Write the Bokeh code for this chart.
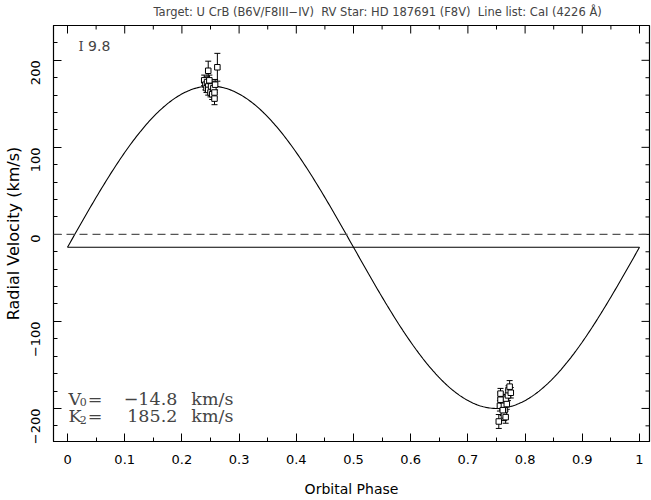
import numpy as np
from bokeh.plotting import figure
from bokeh.models import (ColumnDataSource, Whisker, TeeHead, Span, Label,
                          FixedTicker, Range1d)
from bokeh.embed import file_html
from bokeh.resources import INLINE

# ---- data ----
V0 = -14.8
K2 = 185.2
mean_err = 9.8

phase = [0.239, 0.241, 0.243, 0.244, 0.246, 0.246, 0.248, 0.250, 0.251, 0.253,
         0.255, 0.257, 0.258, 0.257, 0.246, 0.262,
         0.756, 0.757, 0.761, 0.763, 0.764, 0.766, 0.768, 0.770, 0.771, 0.773,
         0.775, 0.763, 0.766, 0.761, 0.754, 0.757]
rv = [177, 172, 168, 175, 170, 166, 177, 163, 170, 161,
      168, 163, 172, 156, 188, 192,
      -197, -183, -191, -197, -202, -189, -195, -185, -179, -175,
      -182, -208, -210, -202, -215, -190]
err = [6, 6, 5, 6, 5, 6, 6, 5, 6, 6,
       5, 6, 6, 7, 11, 16,
       6, 6, 5, 6, 6, 5, 6, 6, 5, 7,
       6, 6, 7, 6, 8, 8]

x_ticks = [0, 0.1, 0.2, 0.3, 0.4, 0.5, 0.6, 0.7, 0.8, 0.9, 1]
x_tick_labels = ["0", "0.1", "0.2", "0.3", "0.4", "0.5", "0.6", "0.7", "0.8", "0.9", "1"]
x_minor = [-0.05, 0.05, 0.15, 0.25, 0.35, 0.45, 0.55, 0.65, 0.75, 0.85, 0.95, 1.05]
y_ticks = [-200, -100, 0, 100, 200]
y_tick_labels = ["\u2212200", "\u2212100", "0", "100", "200"]
y_minor = [v for v in range(-240, 241, 20) if v % 100 != 0]

SP = "\u00a0\u00a0"
title_text = ("Target: U CrB (B6V/F8III\u2212IV)" + SP + "RV Star: HD 187691 (F8V)" + SP +
              "Line list: CaI (4226 \u00c5)")

# model curve from fitted parameters
ph_model = np.linspace(0, 1, 400)
rv_model = V0 + K2 * np.sin(2 * np.pi * ph_model)

FONT = "DejaVu Sans"
SERIF = "DejaVu Serif"

W, H = 651, 500
ML, MR, MT, MB = 52, 2, 25, 59
XR = Range1d(-0.0245, 1.0175)
YR = Range1d(-238, 240)

p = figure(width=W, height=H, output_backend="svg", toolbar_location=None,
           x_range=XR, y_range=YR,
           min_border_left=ML, min_border_right=MR, min_border_top=MT,
           min_border_bottom=MB)
p.background_fill_color = "white"
p.border_fill_color = "white"
p.outline_line_color = "black"
p.outline_line_width = 1.2
p.grid.visible = False

p.title.text = title_text
p.title.text_font = FONT
p.title.text_font_size = "11.5px"
p.title.text_font_style = "normal"
p.title.align = "left"
p.title.offset = 100
p.title.vertical_align = "top"
p.title.standoff = 9

def style_axis(ax):
    ax.axis_line_color = "black"
    ax.major_tick_in = 8
    ax.major_tick_out = 0
    ax.minor_tick_in = 4
    ax.minor_tick_out = 0
    ax.major_tick_line_color = "black"
    ax.minor_tick_line_color = "black"
    ax.major_label_text_font = FONT
    ax.major_label_text_color = "black"
    ax.major_label_text_font_size = "13px"
    ax.axis_label_text_font = FONT
    ax.axis_label_text_font_style = "normal"
    ax.axis_label_text_color = "black"

xa = p.xaxis[0]
xa.ticker = FixedTicker(ticks=x_ticks, minor_ticks=x_minor)
xa.major_label_overrides = {t: l for t, l in zip(x_ticks, x_tick_labels)}
style_axis(xa)
xa.major_label_standoff = 13
xa.axis_label = "Orbital Phase"
xa.axis_label_text_font_size = "14px"
xa.axis_label_standoff = 14

ya = p.yaxis[0]
ya.ticker = FixedTicker(ticks=y_ticks, minor_ticks=y_minor)
ya.major_label_overrides = {t: l for t, l in zip(y_ticks, y_tick_labels)}
style_axis(ya)
ya.major_label_orientation = np.pi / 2
ya.major_label_standoff = 18
ya.axis_label = "Radial Velocity (km/s)"
ya.axis_label_text_font_size = "16px"
ya.axis_label_standoff = 1

# mirrored ticks on top and right edges (tick lengths converted from pixels)
fw, fh = W - ML - MR, H - MT - MB
dx = (XR.end - XR.start) / fw
dy = (YR.end - YR.start) / fh
tick_src_top = ColumnDataSource(dict(
    x=x_ticks + x_minor,
    y0=[YR.end] * (len(x_ticks) + len(x_minor)),
    y1=[YR.end - 8 * dy] * len(x_ticks) + [YR.end - 4 * dy] * len(x_minor)))
p.segment(x0="x", y0="y0", x1="x", y1="y1", source=tick_src_top,
          line_color="black", line_width=1)
tick_src_right = ColumnDataSource(dict(
    y=y_ticks + y_minor,
    x0=[XR.end] * (len(y_ticks) + len(y_minor)),
    x1=[XR.end - 8 * dx] * len(y_ticks) + [XR.end - 4 * dx] * len(y_minor)))
p.segment(x0="x0", y0="y", x1="x1", y1="y", source=tick_src_right,
          line_color="black", line_width=1)

# zero line
p.add_layout(Span(location=0, dimension="width", line_color="#555555",
                  line_dash="8 5", line_width=1.2))

# model
p.line(ph_model, rv_model, line_color="black", line_width=1.1)
p.line([ph_model[0], ph_model[-1]], [V0, V0], line_color="black", line_width=1.1)

# data
src = ColumnDataSource(dict(x=phase, y=rv,
                            lo=[v - e for v, e in zip(rv, err)],
                            hi=[v + e for v, e in zip(rv, err)]))
p.add_layout(Whisker(source=src, base="x", lower="lo", upper="hi",
                     line_color="black", line_width=1,
                     upper_head=TeeHead(size=6, line_color="black"),
                     lower_head=TeeHead(size=6, line_color="black")))
p.scatter("x", "y", source=src, marker="square", size=5.5, fill_color="white",
          line_color="black", line_width=1)

# annotations
p.add_layout(Label(x=0.019, y=216, text="I", text_font=SERIF,
                   text_font_size="13px", text_baseline="middle"))
p.add_layout(Label(x=0.036, y=216, text="9.8", text_font=FONT,
                   text_font_size="14px", text_baseline="middle"))

FS = "17.5px"
for yv, sym, sub, val in [(-189, "V", "0", "\u221214.8"), (-209, "K", "2", "185.2")]:
    p.add_layout(Label(x=0.0017, y=yv, text=sym, text_font=SERIF,
                       text_font_size=FS, text_baseline="middle"))
    p.add_layout(Label(x=0.0215, y=yv - 4, text=sub, text_font=SERIF,
                       text_font_size="11px", text_baseline="middle"))
    p.add_layout(Label(x=0.0355, y=yv, text="=", text_font=SERIF,
                       text_font_size=FS, text_baseline="middle"))
    p.add_layout(Label(x=0.192, y=yv, text=val, text_font=SERIF,
                       text_font_size=FS, text_baseline="middle", text_align="right"))
    p.add_layout(Label(x=0.2164, y=yv, text="km/s", text_font=SERIF,
                       text_font_size=FS, text_baseline="middle"))

open("out.html", "w").write(file_html(p, INLINE))
